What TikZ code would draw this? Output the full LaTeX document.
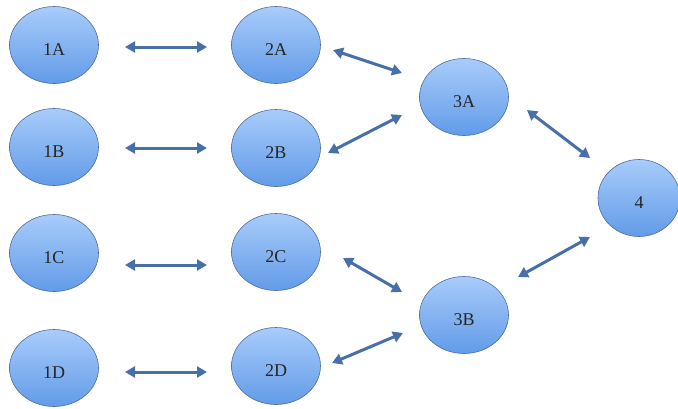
\documentclass[tikz,border=0pt]{standalone}
\usepackage{fontspec}
\setmainfont{Liberation Serif}
\usetikzlibrary{shapes.geometric,arrows.meta}
\definecolor{nodetop}{RGB}{168,204,250}
\definecolor{nodebot}{RGB}{98,155,232}
\definecolor{nodeline}{RGB}{78,108,158}
\definecolor{arrowcol}{RGB}{72,112,168}
\tikzset{
  bubble/.style={ellipse, draw=nodeline, line width=0.6pt, top color=nodetop, bottom color=nodebot,
    minimum width=89pt, minimum height=77pt, inner sep=0pt, font=\fontsize{18}{18}\selectfont, text=black!85,
    text height=21pt, text depth=0pt},
  link/.style={draw=arrowcol, line width=3pt, {Triangle[length=10pt,width=11pt]}-{Triangle[length=10pt,width=11pt]}}
}
\begin{document}
\begin{tikzpicture}[x=1pt,y=-1pt]
\path[use as bounding box] (0,0) rectangle (678,408);
\node[bubble] (1A) at (54,45) {1A};
\node[bubble] (1B) at (54,147) {1B};
\node[bubble] (1C) at (54,253) {1C};
\node[bubble] (1D) at (54,368) {1D};
\node[bubble] (2A) at (276,45) {2A};
\node[bubble] (2B) at (276,148) {2B};
\node[bubble] (2C) at (276,252) {2C};
\node[bubble] (2D) at (276,366) {2D};
\node[bubble] (3A) at (464,97) {3A};
\node[bubble] (3B) at (464,315) {3B};
\node[bubble, minimum width=82pt] (4) at (639,198) {4};
\draw[link] ([shift={(71,2)}]1A.center) -- ([shift={(-69,2)}]2A.center);
\draw[link] ([shift={(71,1)}]1B.center) -- ([shift={(-69,0)}]2B.center);
\draw[link] ([shift={(71,12)}]1C.center) -- ([shift={(-69,13)}]2C.center);
\draw[link] ([shift={(71,4)}]1D.center) -- ([shift={(-69,6)}]2D.center);
\draw[link] ([shift={(57,5)}]2A.center) -- ([shift={(-62,-24)}]3A.center);
\draw[link] ([shift={(52,5)}]2B.center) -- ([shift={(-62,18)}]3A.center);
\draw[link] ([shift={(63,13)}]3A.center) -- ([shift={(-49,-40)}]4.center);
\draw[link] ([shift={(-49,39)}]4.center) -- ([shift={(54,-38)}]3B.center);
\draw[link] ([shift={(67,6)}]2C.center) -- ([shift={(-62,-23)}]3B.center);
\draw[link] ([shift={(56,-3)}]2D.center) -- ([shift={(-61,18)}]3B.center);
\end{tikzpicture}
\end{document}
